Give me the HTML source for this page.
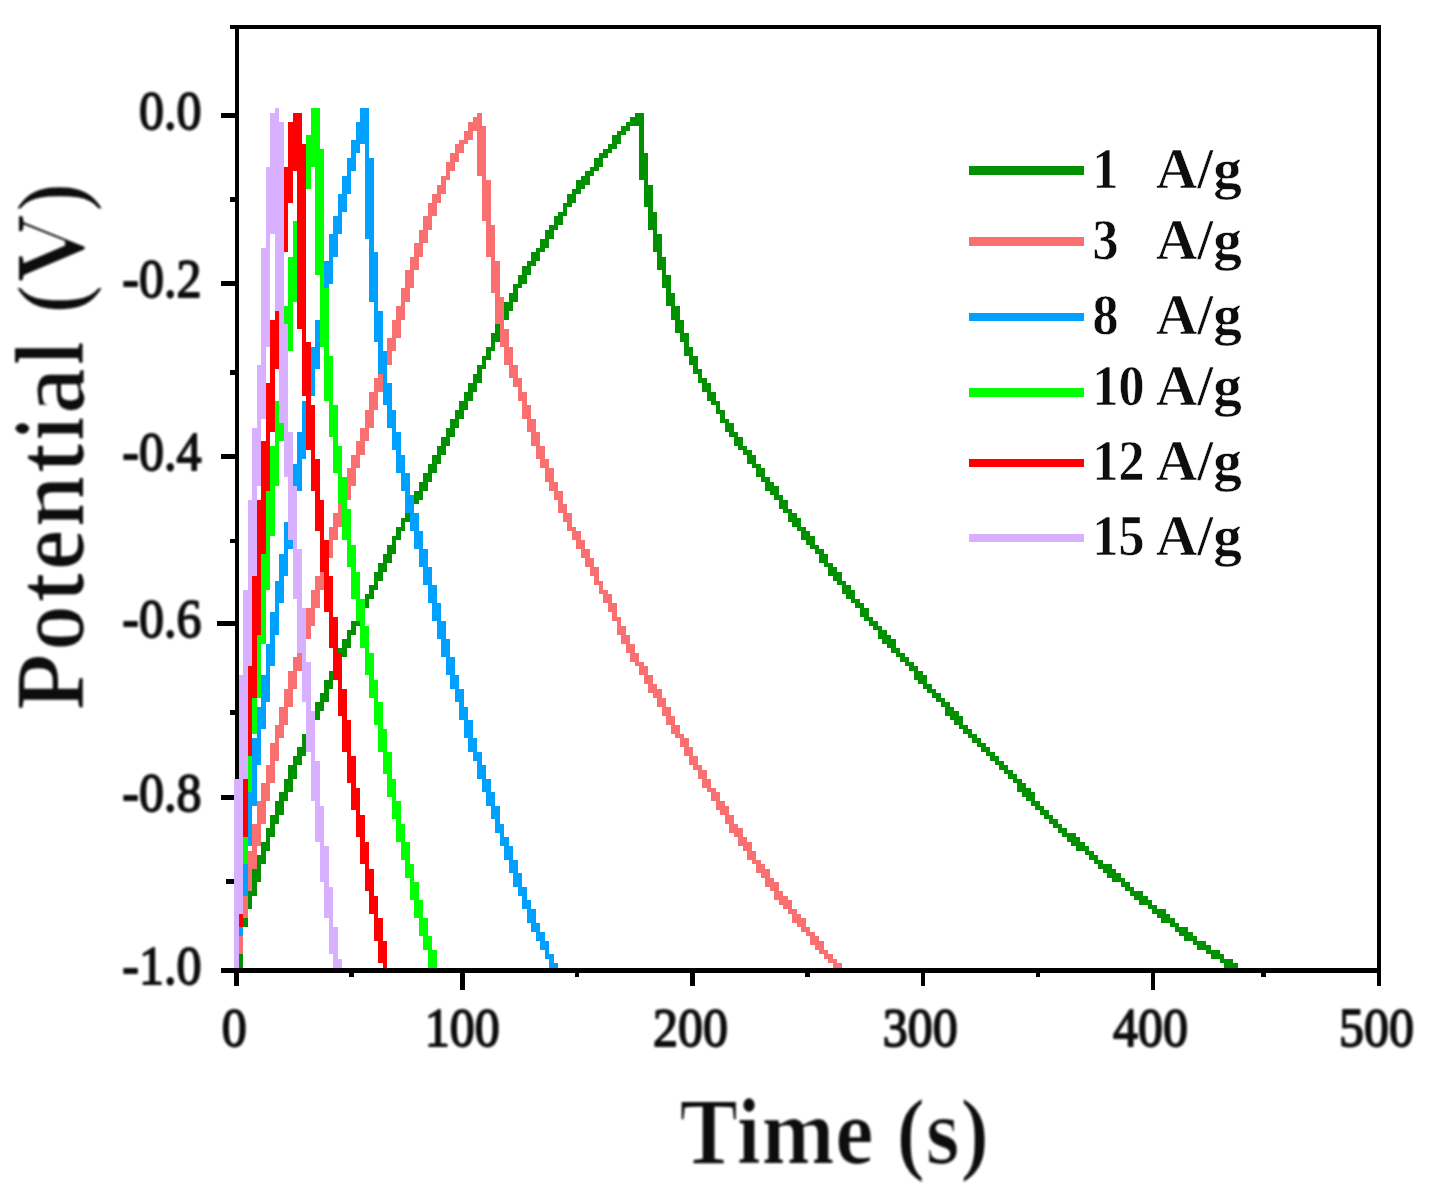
<!DOCTYPE html>
<html lang="en">
<head>
<meta charset="utf-8">
<title>GCD curves</title>
<style>
html,body{margin:0;padding:0;background:#fff;}
body{width:1436px;height:1196px;overflow:hidden;}
svg{display:block;}
text{font-family:'Liberation Serif','Times New Roman',serif;fill:#0d0d0d;}
text.r{font-weight:normal;stroke:#0d0d0d;stroke-linejoin:round;}
text.b{font-weight:bold;stroke:#ffffff;}
</style>
</head>
<body>
<svg width="1436" height="1196" viewBox="0 0 1436 1196">
<rect width="1436" height="1196" fill="#ffffff"/>
<g id="axes" fill="#000000" shape-rendering="crispEdges">
<rect x="234.5" y="24.7" width="4.5" height="947.8"/>
<rect x="1376.5" y="24.7" width="4.5" height="947.8"/>
<rect x="234.5" y="24.7" width="1146.5" height="4.6"/>
<rect x="234.5" y="968" width="1146.5" height="4.5"/>
<rect x="221" y="113.2" width="14.5" height="4.5"/>
<rect x="221" y="281.2" width="14.5" height="4.5"/>
<rect x="221" y="454.1" width="14.5" height="4.5"/>
<rect x="216.5" y="621" width="19" height="4.5"/>
<rect x="221" y="795.2" width="14.5" height="4.5"/>
<rect x="221" y="968" width="14.5" height="4.5"/>
<rect x="229.7" y="24.8" width="5.8" height="4.5"/>
<rect x="229.7" y="197.2" width="5.8" height="4.5"/>
<rect x="229.7" y="370.2" width="5.8" height="4.5"/>
<rect x="229.7" y="538.8" width="5.8" height="4.5"/>
<rect x="229.7" y="710.2" width="5.8" height="4.5"/>
<rect x="225.5" y="879.2" width="10" height="4.5"/>
<rect x="234.4" y="971.5" width="4.5" height="14"/>
<rect x="460.1" y="971.5" width="4.5" height="18.5"/>
<rect x="690.1" y="971.5" width="4.5" height="14"/>
<rect x="920.5" y="971.5" width="4.5" height="14"/>
<rect x="1150.5" y="971.5" width="4.5" height="18.5"/>
<rect x="1376.5" y="971.5" width="4.5" height="14"/>
<rect x="349.2" y="971.5" width="4.5" height="5.2"/>
<rect x="574.5" y="971.5" width="4.5" height="5.2"/>
<rect x="805.2" y="971.5" width="4.5" height="5.2"/>
<rect x="1035.5" y="971.5" width="4.5" height="5.2"/>
<rect x="1261" y="971.5" width="4.5" height="5.2"/>
</g>
<g id="curves" shape-rendering="crispEdges">
<path fill="#009000" d="M634.5 112.5H643.5V117H634.5zM630 117H643.5V121.5H630zM625.5 121.5H643.5V126H625.5zM621 126H630V130.5H621zM616.5 130.5H625.5V135H616.5zM612 135H621V144H612zM607.5 144H616.5V148.5H607.5zM639 126H643.5V153H639zM603 148.5H612V153H603zM598.5 153H607.5V157.5H598.5zM594 157.5H603V166.5H594zM589.5 166.5H598.5V171H589.5zM585 171H594V175.5H585zM639 153H648V180H639zM580.5 175.5H589.5V180H580.5zM576 180H589.5V184.5H576zM643.5 180H648V184.5H643.5zM576 184.5H585V189H576zM571.5 189H580.5V193.5H571.5zM567 193.5H576V202.5H567zM643.5 184.5H652.5V207H643.5zM562.5 202.5H571.5V207H562.5zM562.5 207H567V211.5H562.5zM648 207H652.5V211.5H648zM558 211.5H567V216H558zM553.5 216H562.5V225H553.5zM648 211.5H657V229.5H648zM549 225H558V229.5H549zM652.5 229.5H657V234H652.5zM544.5 229.5H553.5V238.5H544.5zM540 238.5H549V247.5H540zM652.5 234H661.5V252H652.5zM535.5 247.5H544.5V252H535.5zM657 252H661.5V256.5H657zM531 252H540V261H531zM526.5 261H535.5V265.5H526.5zM657 256.5H666V270H657zM522 265.5H531V274.5H522zM661.5 270H666V274.5H661.5zM517.5 274.5H526.5V283.5H517.5zM661.5 274.5H670.5V288H661.5zM513 283.5H522V288H513zM513 288H517.5V292.5H513zM666 288H670.5V292.5H666zM508.5 292.5H517.5V301.5H508.5zM666 292.5H675V306H666zM504 301.5H513V310.5H504zM504 310.5H508.5V315H504zM670.5 306H679.5V319.5H670.5zM499.5 315H508.5V319.5H499.5zM499.5 319.5H504V324H499.5zM675 319.5H684V333H675zM495 324H504V333H495zM679.5 333H688.5V342H679.5zM490.5 333H499.5V342H490.5zM490.5 342H495V346.5H490.5zM684 342H688.5V346.5H684zM486 346.5H495V351H486zM684 346.5H693V355.5H684zM486 351H490.5V355.5H486zM481.5 355.5H490.5V360H481.5zM688.5 355.5H697.5V364.5H688.5zM481.5 360H486V364.5H481.5zM477 364.5H486V369H477zM693 364.5H697.5V369H693zM693 369H702V373.5H693zM477 369H481.5V373.5H477zM697.5 373.5H702V378H697.5zM472.5 373.5H481.5V382.5H472.5zM697.5 378H706.5V382.5H697.5zM468 382.5H477V391.5H468zM702 382.5H711V391.5H702zM463.5 391.5H472.5V400.5H463.5zM706.5 391.5H715.5V400.5H706.5zM711 400.5H720V405H711zM459 400.5H468V409.5H459zM715.5 405H720V409.5H715.5zM715.5 409.5H724.5V414H715.5zM454.5 409.5H463.5V418.5H454.5zM720 414H724.5V418.5H720zM720 418.5H729V423H720zM450 418.5H459V427.5H450zM724.5 423H733.5V432H724.5zM445.5 427.5H454.5V436.5H445.5zM729 432H738V436.5H729zM733.5 436.5H742.5V445.5H733.5zM441 436.5H450V445.5H441zM738 445.5H747V450H738zM436.5 445.5H445.5V454.5H436.5zM742.5 450H751.5V454.5H742.5zM432 454.5H441V463.5H432zM747 454.5H756V463.5H747zM751.5 463.5H760.5V468H751.5zM427.5 463.5H436.5V472.5H427.5zM756 468H765V477H756zM423 472.5H432V481.5H423zM760.5 477H769.5V481.5H760.5zM765 481.5H774V486H765zM418.5 481.5H427.5V490.5H418.5zM765 486H778.5V490.5H765zM769.5 490.5H778.5V495H769.5zM414 490.5H423V499.5H414zM774 495H783V499.5H774zM409.5 499.5H418.5V504H409.5zM778.5 499.5H787.5V508.5H778.5zM409.5 504H414V508.5H409.5zM783 508.5H792V513H783zM405 508.5H414V513H405zM405 513H409.5V517.5H405zM787.5 513H796.5V517.5H787.5zM787.5 517.5H801V522H787.5zM400.5 517.5H409.5V522H400.5zM792 522H801V526.5H792zM400.5 522H405V526.5H400.5zM396 526.5H405V531H396zM796.5 526.5H805.5V531H796.5zM396 531H400.5V535.5H396zM801 531H810V535.5H801zM801 535.5H814.5V540H801zM391.5 535.5H400.5V540H391.5zM805.5 540H814.5V544.5H805.5zM391.5 540H396V544.5H391.5zM810 544.5H819V549H810zM387 544.5H396V553.5H387zM814.5 549H823.5V553.5H814.5zM819 553.5H828V562.5H819zM382.5 553.5H391.5V562.5H382.5zM823.5 562.5H832.5V567H823.5zM378 562.5H387V571.5H378zM828 567H837V571.5H828zM828 571.5H841.5V576H828zM373.5 571.5H382.5V580.5H373.5zM832.5 576H841.5V580.5H832.5zM373.5 580.5H378V585H373.5zM837 580.5H846V585H837zM369 585H378V589.5H369zM841.5 585H850.5V589.5H841.5zM841.5 589.5H855V594H841.5zM369 589.5H373.5V594H369zM364.5 594H373.5V598.5H364.5zM846 594H855V598.5H846zM364.5 598.5H369V603H364.5zM850.5 598.5H859.5V603H850.5zM360 603H369V607.5H360zM855 603H864V607.5H855zM360 607.5H364.5V612H360zM859.5 607.5H868.5V616.5H859.5zM355.5 612H364.5V616.5H355.5zM864 616.5H873V621H864zM355.5 616.5H360V621H355.5zM868.5 621H877.5V625.5H868.5zM351 621H360V625.5H351zM873 625.5H882V630H873zM351 625.5H355.5V630H351zM346.5 630H355.5V634.5H346.5zM877.5 630H886.5V634.5H877.5zM877.5 634.5H891V639H877.5zM346.5 634.5H351V639H346.5zM882 639H895.5V643.5H882zM342 639H351V648H342zM886.5 643.5H895.5V648H886.5zM891 648H900V652.5H891zM337.5 648H346.5V657H337.5zM895.5 652.5H904.5V657H895.5zM337.5 657H342V661.5H337.5zM900 657H909V661.5H900zM904.5 661.5H913.5V666H904.5zM333 661.5H342V666H333zM333 666H337.5V670.5H333zM909 666H918V670.5H909zM913.5 670.5H922.5V675H913.5zM328.5 670.5H337.5V679.5H328.5zM913.5 675H927V679.5H913.5zM918 679.5H927V684H918zM324 679.5H333V688.5H324zM922.5 684H931.5V688.5H922.5zM324 688.5H328.5V693H324zM927 688.5H936V693H927zM931.5 693H940.5V697.5H931.5zM319.5 693H328.5V702H319.5zM936 697.5H945V702H936zM940.5 702H949.5V706.5H940.5zM315 702H324V711H315zM945 706.5H954V711H945zM945 711H958.5V715.5H945zM310.5 711H319.5V720H310.5zM949.5 715.5H963V720H949.5zM310.5 720H315V724.5H310.5zM954 720H963V724.5H954zM958.5 724.5H967.5V729H958.5zM306 724.5H315V733.5H306zM963 729H972V733.5H963zM967.5 733.5H976.5V738H967.5zM301.5 733.5H310.5V742.5H301.5zM972 738H981V742.5H972zM301.5 742.5H306V747H301.5zM976.5 742.5H985.5V747H976.5zM981 747H990V751.5H981zM297 747H306V756H297zM985.5 751.5H994.5V756H985.5zM990 756H999V760.5H990zM292.5 756H301.5V765H292.5zM994.5 760.5H1003.5V765H994.5zM999 765H1008V769.5H999zM1003.5 769.5H1012.5V774H1003.5zM288 765H297V778.5H288zM1008 774H1017V778.5H1008zM1012.5 778.5H1021.5V783H1012.5zM1017 783H1026V787.5H1017zM283.5 778.5H292.5V792H283.5zM1017 787.5H1030.5V792H1017zM1021.5 792H1035V796.5H1021.5zM279 792H288V801H279zM1026 796.5H1035V801H1026zM1030.5 801H1039.5V805.5H1030.5zM1035 805.5H1044V810H1035zM274.5 801H283.5V814.5H274.5zM1039.5 810H1048.5V814.5H1039.5zM1044 814.5H1053V819H1044zM270 814.5H279V823.5H270zM1048.5 819H1057.5V823.5H1048.5zM1053 823.5H1062V828H1053zM270 823.5H274.5V828H270zM1057.5 828H1066.5V832.5H1057.5zM265.5 828H274.5V837H265.5zM1062 832.5H1075.5V837H1062zM265.5 837H270V841.5H265.5zM1066.5 837H1080V841.5H1066.5zM1071 841.5H1084.5V846H1071zM261 841.5H270V850.5H261zM1075.5 846H1089V850.5H1075.5zM261 850.5H265.5V855H261zM1084.5 850.5H1093.5V855H1084.5zM1089 855H1098V859.5H1089zM256.5 855H265.5V864H256.5zM1093.5 859.5H1102.5V864H1093.5zM256.5 864H261V868.5H256.5zM1098 864H1111.5V868.5H1098zM1102.5 868.5H1116V873H1102.5zM1107 873H1120.5V877.5H1107zM252 868.5H261V882H252zM1111.5 877.5H1125V882H1111.5zM1120.5 882H1129.5V886.5H1120.5zM1125 886.5H1134V891H1125zM247.5 882H256.5V895.5H247.5zM1129.5 891H1143V895.5H1129.5zM1134 895.5H1147.5V900H1134zM247.5 895.5H252V900H247.5zM1138.5 900H1152V904.5H1138.5zM243 900H252V909H243zM1147.5 904.5H1156.5V909H1147.5zM1152 909H1165.5V913.5H1152zM243 909H247.5V913.5H243zM1156.5 913.5H1170V918H1156.5zM1161 918H1174.5V922.5H1161zM238.5 913.5H247.5V927H238.5zM1170 922.5H1179V927H1170zM1174.5 927H1188V931.5H1174.5zM1179 931.5H1192.5V936H1179zM1183.5 936H1197V940.5H1183.5zM1192.5 940.5H1206V945H1192.5zM1197 945H1210.5V949.5H1197zM1206 949.5H1219.5V954H1206zM1210.5 954H1224V958.5H1210.5zM1219.5 958.5H1233V963H1219.5zM1224 963H1237.5V967.5H1224zM238.5 927H243V968H238.5zM1233 967.5H1237.5V968H1233z"/>
<path fill="#fa7070" d="M477 112.5H481.5V117H477zM472.5 117H481.5V121.5H472.5zM468 121.5H481.5V126H468zM468 126H486V130.5H468zM463.5 130.5H472.5V139.5H463.5zM459 139.5H468V144H459zM454.5 144H463.5V153H454.5zM450 153H459V162H450zM445.5 162H454.5V171H445.5zM477 130.5H486V175.5H477zM445.5 171H450V175.5H445.5zM481.5 175.5H486V180H481.5zM441 175.5H450V180H441zM441 180H445.5V184.5H441zM436.5 184.5H445.5V193.5H436.5zM432 193.5H441V202.5H432zM427.5 202.5H436.5V216H427.5zM481.5 180H490.5V220.5H481.5zM486 220.5H490.5V225H486zM423 216H432V229.5H423zM418.5 229.5H427.5V243H418.5zM486 225H495V256.5H486zM414 243H423V256.5H414zM490.5 256.5H495V261H490.5zM409.5 256.5H418.5V270H409.5zM405 270H414V288H405zM490.5 261H499.5V292.5H490.5zM495 292.5H499.5V297H495zM400.5 288H409.5V301.5H400.5zM400.5 301.5H405V306H400.5zM396 306H405V319.5H396zM495 297H504V324H495zM499.5 324H504V328.5H499.5zM391.5 319.5H400.5V337.5H391.5zM499.5 328.5H508.5V346.5H499.5zM387 337.5H396V351H387zM504 346.5H513V364.5H504zM382.5 351H391.5V364.5H382.5zM378 364.5H387V378H378zM508.5 364.5H517.5V378H508.5zM513 378H522V387H513zM373.5 378H382.5V391.5H373.5zM517.5 387H522V391.5H517.5zM517.5 391.5H526.5V400.5H517.5zM522 400.5H526.5V405H522zM369 391.5H378V409.5H369zM522 405H531V418.5H522zM364.5 409.5H373.5V427.5H364.5zM526.5 418.5H535.5V432H526.5zM360 427.5H369V441H360zM531 432H540V445.5H531zM355.5 441H364.5V454.5H355.5zM535.5 445.5H544.5V459H535.5zM351 454.5H360V468H351zM540 459H549V468H540zM544.5 468H553.5V481.5H544.5zM346.5 468H355.5V486H346.5zM549 481.5H558V490.5H549zM342 486H351V499.5H342zM553.5 490.5H562.5V499.5H553.5zM558 499.5H562.5V504H558zM337.5 499.5H346.5V513H337.5zM558 504H567V513H558zM562.5 513H571.5V522H562.5zM333 513H342V526.5H333zM567 522H571.5V526.5H567zM567 526.5H576V531H567zM328.5 526.5H337.5V540H328.5zM571.5 531H580.5V540H571.5zM328.5 540H333V544.5H328.5zM576 540H585V549H576zM324 544.5H333V558H324zM580.5 549H589.5V558H580.5zM585 558H594V567H585zM319.5 558H328.5V576H319.5zM589.5 567H598.5V576H589.5zM594 576H598.5V580.5H594zM594 580.5H603V585H594zM315 576H324V589.5H315zM598.5 585H603V589.5H598.5zM598.5 589.5H607.5V594H598.5zM603 594H612V603H603zM310.5 589.5H319.5V607.5H310.5zM607.5 603H616.5V612H607.5zM612 612H616.5V616.5H612zM612 616.5H621V621H612zM306 607.5H315V625.5H306zM616.5 621H621V625.5H616.5zM616.5 625.5H625.5V634.5H616.5zM301.5 625.5H310.5V639H301.5zM621 634.5H630V643.5H621zM625.5 643.5H634.5V652.5H625.5zM297 639H306V657H297zM630 652.5H639V661.5H630zM634.5 661.5H643.5V666H634.5zM292.5 657H301.5V670.5H292.5zM639 666H648V675H639zM643.5 675H652.5V684H643.5zM288 670.5H297V688.5H288zM648 684H657V688.5H648zM648 688.5H661.5V693H648zM652.5 693H661.5V697.5H652.5zM283.5 688.5H292.5V706.5H283.5zM657 697.5H666V706.5H657zM661.5 706.5H670.5V715.5H661.5zM279 706.5H288V724.5H279zM666 715.5H675V724.5H666zM670.5 724.5H679.5V733.5H670.5zM274.5 724.5H283.5V738H274.5zM675 733.5H684V738H675zM274.5 738H279V742.5H274.5zM679.5 738H688.5V747H679.5zM684 747H693V756H684zM270 742.5H279V760.5H270zM688.5 756H697.5V765H688.5zM270 760.5H274.5V765H270zM693 765H702V769.5H693zM697.5 769.5H706.5V778.5H697.5zM265.5 765H274.5V783H265.5zM702 778.5H711V787.5H702zM706.5 787.5H715.5V792H706.5zM261 783H270V801H261zM711 792H720V801H711zM715.5 801H724.5V805.5H715.5zM715.5 805.5H729V810H715.5zM720 810H729V814.5H720zM256.5 801H265.5V823.5H256.5zM724.5 814.5H733.5V823.5H724.5zM729 823.5H738V828H729zM729 828H742.5V832.5H729zM733.5 832.5H742.5V837H733.5zM738 837H747V841.5H738zM252 823.5H261V846H252zM738 841.5H751.5V846H738zM742.5 846H751.5V850.5H742.5zM252 846H256.5V850.5H252zM747 850.5H756V859.5H747zM751.5 859.5H760.5V864H751.5zM247.5 850.5H256.5V868.5H247.5zM756 864H765V868.5H756zM756 868.5H769.5V873H756zM247.5 868.5H252V873H247.5zM760.5 873H769.5V877.5H760.5zM765 877.5H774V882H765zM765 882H778.5V886.5H765zM243 873H252V891H243zM769.5 886.5H778.5V891H769.5zM774 891H783V895.5H774zM243 891H247.5V895.5H243zM774 895.5H787.5V900H774zM778.5 900H792V904.5H778.5zM783 904.5H792V909H783zM787.5 909H796.5V913.5H787.5zM238.5 895.5H247.5V918H238.5zM792 913.5H801V918H792zM792 918H805.5V922.5H792zM796.5 922.5H805.5V927H796.5zM801 927H810V931.5H801zM805.5 931.5H814.5V936H805.5zM810 936H819V940.5H810zM810 940.5H823.5V945H810zM814.5 945H823.5V949.5H814.5zM238.5 918H243V954H238.5zM819 949.5H828V954H819zM823.5 954H832.5V958.5H823.5zM828 958.5H837V963H828zM832.5 963H841.5V967.5H832.5zM832.5 967.5H837V968H832.5z"/>
<path fill="#00a0ff" d="M360 108H369V121.5H360zM355.5 121.5H369V139.5H355.5zM351 139.5H369V144H351zM351 144H360V153H351zM364.5 144H369V157.5H364.5zM351 153H355.5V157.5H351zM346.5 157.5H355.5V171H346.5zM346.5 171H351V175.5H346.5zM342 175.5H351V193.5H342zM337.5 193.5H346.5V211.5H337.5zM337.5 211.5H342V216H337.5zM333 216H342V234H333zM364.5 157.5H373.5V238.5H364.5zM369 238.5H373.5V252H369zM328.5 234H337.5V256.5H328.5zM328.5 256.5H333V261H328.5zM324 261H333V283.5H324zM324 283.5H328.5V288H324zM369 252H378V301.5H369zM373.5 301.5H378V310.5H373.5zM319.5 288H328.5V315H319.5zM319.5 315H324V319.5H319.5zM373.5 310.5H382.5V342H373.5zM315 319.5H324V342H315zM315 342H319.5V346.5H315zM378 342H382.5V351H378zM310.5 346.5H319.5V369H310.5zM378 351H387V373.5H378zM382.5 373.5H387V382.5H382.5zM306 369H315V396H306zM306 396H310.5V400.5H306zM382.5 382.5H391.5V405H382.5zM387 405H391.5V409.5H387zM301.5 400.5H310.5V427.5H301.5zM387 409.5H396V427.5H387zM391.5 427.5H396V432H391.5zM301.5 427.5H306V432H301.5zM391.5 432H400.5V450H391.5zM396 450H400.5V454.5H396zM297 432H306V459H297zM297 459H301.5V463.5H297zM396 454.5H405V472.5H396zM292.5 463.5H301.5V490.5H292.5zM400.5 472.5H409.5V490.5H400.5zM405 490.5H409.5V495H405zM292.5 490.5H297V495H292.5zM405 495H414V513H405zM288 495H297V517.5H288zM288 517.5H292.5V522H288zM409.5 513H418.5V531H409.5zM283.5 522H292.5V549H283.5zM414 531H423V549H414zM283.5 549H288V553.5H283.5zM418.5 549H427.5V567H418.5zM279 553.5H288V576H279zM279 576H283.5V580.5H279zM423 567H432V585H423zM274.5 580.5H283.5V603H274.5zM427.5 585H436.5V603H427.5zM274.5 603H279V612H274.5zM432 603H441V621H432zM270 612H279V634.5H270zM436.5 621H445.5V639H436.5zM270 634.5H274.5V643.5H270zM441 639H450V657H441zM265.5 643.5H274.5V666H265.5zM445.5 657H454.5V675H445.5zM265.5 666H270V675H265.5zM450 675H459V688.5H450zM261 675H270V702H261zM454.5 688.5H463.5V702H454.5zM459 702H463.5V706.5H459zM261 702H265.5V706.5H261zM459 706.5H468V720H459zM256.5 706.5H265.5V729H256.5zM463.5 720H472.5V738H463.5zM256.5 729H261V738H256.5zM468 738H477V751.5H468zM472.5 751.5H481.5V760.5H472.5zM252 738H261V765H252zM477 760.5H481.5V765H477zM252 765H256.5V774H252zM477 765H486V778.5H477zM481.5 778.5H490.5V792H481.5zM247.5 774H256.5V805.5H247.5zM486 792H495V805.5H486zM247.5 805.5H252V810H247.5zM490.5 805.5H499.5V819H490.5zM495 819H499.5V823.5H495zM495 823.5H504V832.5H495zM499.5 832.5H504V837H499.5zM243 810H252V846H243zM499.5 837H508.5V846H499.5zM243 846H247.5V850.5H243zM504 846H513V859.5H504zM508.5 859.5H517.5V873H508.5zM513 873H522V886.5H513zM238.5 850.5H247.5V895.5H238.5zM517.5 886.5H526.5V895.5H517.5zM522 895.5H526.5V900H522zM522 900H531V909H522zM526.5 909H535.5V922.5H526.5zM531 922.5H540V931.5H531zM238.5 895.5H243V936H238.5zM535.5 931.5H544.5V940.5H535.5zM540 940.5H549V949.5H540zM544.5 949.5H549V954H544.5zM544.5 954H553.5V958.5H544.5zM549 958.5H553.5V963H549zM549 963H558V967.5H549z"/>
<path fill="#00ff00" d="M310.5 108H319.5V135H310.5zM306 135H319.5V148.5H306zM306 148.5H324V166.5H306zM301.5 166.5H310.5V189H301.5zM301.5 189H306V193.5H301.5zM297 193.5H306V216H297zM297 216H301.5V220.5H297zM292.5 220.5H301.5V247.5H292.5zM292.5 247.5H297V256.5H292.5zM315 166.5H324V274.5H315zM319.5 274.5H324V288H319.5zM288 256.5H297V301.5H288zM288 301.5H292.5V306H288zM319.5 288H328.5V346.5H319.5zM283.5 306H292.5V351H283.5zM324 346.5H328.5V355.5H324zM283.5 351H288V360H283.5zM279 360H288V396H279zM324 355.5H333V400.5H324zM279 396H283.5V400.5H279zM328.5 400.5H333V405H328.5zM328.5 405H337.5V436.5H328.5zM274.5 400.5H283.5V441H274.5zM333 436.5H337.5V445.5H333zM274.5 441H279V445.5H274.5zM333 445.5H342V472.5H333zM337.5 472.5H342V477H337.5zM270 445.5H279V486H270zM270 486H274.5V490.5H270zM337.5 477H346.5V504H337.5zM342 504H346.5V508.5H342zM265.5 490.5H274.5V535.5H265.5zM342 508.5H351V540H342zM265.5 535.5H270V544.5H265.5zM346.5 540H351V544.5H346.5zM346.5 544.5H355.5V567H346.5zM351 567H355.5V571.5H351zM261 544.5H270V589.5H261zM351 571.5H360V598.5H351zM261 589.5H265.5V598.5H261zM355.5 598.5H364.5V621H355.5zM360 621H364.5V625.5H360zM256.5 598.5H265.5V643.5H256.5zM360 625.5H369V648H360zM256.5 643.5H261V652.5H256.5zM364.5 648H369V652.5H364.5zM364.5 652.5H373.5V675H364.5zM369 675H373.5V679.5H369zM252 652.5H261V697.5H252zM369 679.5H378V697.5H369zM373.5 697.5H378V702H373.5zM252 697.5H256.5V702H252zM373.5 702H382.5V724.5H373.5zM378 724.5H382.5V729H378zM247.5 702H256.5V733.5H247.5zM247.5 733.5H252V742.5H247.5zM378 729H387V751.5H378zM382.5 751.5H391.5V774H382.5zM387 774H391.5V778.5H387zM243 742.5H252V792H243zM387 778.5H396V796.5H387zM243 792H247.5V801H243zM391.5 796.5H396V801H391.5zM391.5 801H400.5V819H391.5zM396 819H400.5V823.5H396zM396 823.5H405V841.5H396zM400.5 841.5H409.5V859.5H400.5zM238.5 801H247.5V864H238.5zM405 859.5H409.5V864H405zM405 864H414V877.5H405zM409.5 877.5H414V882H409.5zM409.5 882H418.5V900H409.5zM414 900H423V918H414zM238.5 864H243V927H238.5zM418.5 918H427.5V936H418.5zM423 936H432V949.5H423zM427.5 949.5H436.5V967.5H427.5zM432 967.5H436.5V968H432z"/>
<path fill="#ff0000" d="M292.5 112.5H301.5V121.5H292.5zM288 121.5H301.5V144H288zM288 144H306V166.5H288zM283.5 166.5H306V171H283.5zM283.5 171H292.5V202.5H283.5zM283.5 202.5H288V207H283.5zM279 207H288V252H279zM279 252H283.5V261H279zM274.5 261H283.5V310.5H274.5zM274.5 310.5H279V319.5H274.5zM297 171H306V328.5H297zM301.5 328.5H306V342H301.5zM270 319.5H279V369H270zM270 369H274.5V382.5H270zM301.5 342H310.5V396H301.5zM306 396H310.5V405H306zM265.5 382.5H274.5V432H265.5zM265.5 432H270V441H265.5zM306 405H315V450H306zM310.5 450H315V459H310.5zM261 441H270V490.5H261zM310.5 459H319.5V490.5H310.5zM315 490.5H319.5V499.5H315zM261 490.5H265.5V499.5H261zM315 499.5H324V531H315zM319.5 531H324V540H319.5zM256.5 499.5H265.5V553.5H256.5zM256.5 553.5H261V567H256.5zM319.5 540H328.5V571.5H319.5zM324 571.5H328.5V576H324zM324 576H333V612H324zM328.5 612H333V616.5H328.5zM252 567H261V634.5H252zM252 634.5H256.5V643.5H252zM328.5 616.5H337.5V648H328.5zM333 648H337.5V652.5H333zM333 652.5H342V679.5H333zM337.5 679.5H342V688.5H337.5zM247.5 643.5H256.5V697.5H247.5zM247.5 697.5H252V706.5H247.5zM337.5 688.5H346.5V715.5H337.5zM342 715.5H346.5V720H342zM342 720H351V751.5H342zM243 706.5H252V756H243zM346.5 751.5H351V756H346.5zM243 756H247.5V774H243zM346.5 756H355.5V783H346.5zM351 783H355.5V787.5H351zM351 787.5H360V810H351zM355.5 810H360V814.5H355.5zM238.5 774H247.5V837H238.5zM355.5 814.5H364.5V837H355.5zM360 837H364.5V841.5H360zM360 841.5H369V864H360zM364.5 864H369V868.5H364.5zM364.5 868.5H373.5V891H364.5zM369 891H373.5V895.5H369zM369 895.5H378V913.5H369zM373.5 913.5H378V918H373.5zM238.5 837H243V927H238.5zM373.5 918H382.5V940.5H373.5zM378 940.5H387V963H378zM382.5 963H387V967.5H382.5z"/>
<path fill="#d8b0ff" d="M274.5 108H279V112.5H274.5zM270 112.5H279V121.5H270zM270 121.5H283.5V166.5H270zM265.5 166.5H283.5V234H265.5zM265.5 234H270V247.5H265.5zM274.5 234H283.5V310.5H274.5zM279 310.5H283.5V324H279zM261 247.5H270V346.5H261zM261 346.5H265.5V364.5H261zM256.5 364.5H265.5V418.5H256.5zM279 324H288V423H279zM256.5 418.5H261V427.5H256.5zM283.5 423H288V432H283.5zM283.5 432H292.5V477H283.5zM252 427.5H261V486H252zM288 477H292.5V486H288zM252 486H256.5V499.5H252zM288 486H297V540H288zM292.5 540H297V549H292.5zM247.5 499.5H256.5V576H247.5zM247.5 576H252V589.5H247.5zM292.5 549H301.5V598.5H292.5zM297 598.5H301.5V607.5H297zM297 607.5H306V652.5H297zM301.5 652.5H306V661.5H301.5zM243 589.5H252V666H243zM243 666H247.5V675H243zM301.5 661.5H310.5V702H301.5zM306 702H310.5V711H306zM306 711H315V751.5H306zM310.5 751.5H315V760.5H310.5zM238.5 675H247.5V778.5H238.5zM310.5 760.5H319.5V801H310.5zM315 801H319.5V805.5H315zM315 805.5H324V841.5H315zM319.5 841.5H324V846H319.5zM319.5 846H328.5V882H319.5zM324 882H328.5V886.5H324zM234 778.5H243V913.5H234zM324 886.5H333V918H324zM328.5 918H333V927H328.5zM328.5 927H337.5V954H328.5zM333 954H337.5V958.5H333zM333 958.5H342V967.5H333zM234 913.5H238.5V968H234zM333 967.5H337.5V968H333z"/>
</g>
<g id="legend" shape-rendering="crispEdges">
<rect x="969" y="166.1" width="115.4" height="8.6" fill="#009000"/>
<rect x="969" y="237.3" width="115.4" height="8.6" fill="#fa7070"/>
<rect x="969" y="312.5" width="115.4" height="8.6" fill="#00a0ff"/>
<rect x="969" y="387.9" width="115.4" height="8.6" fill="#00ff00"/>
<rect x="969" y="458.6" width="115.4" height="8.6" fill="#ff0000"/>
<rect x="969" y="533.7" width="115.4" height="8.6" fill="#d8b0ff"/>
</g>
<defs><filter id="soft" x="-5%" y="-5%" width="110%" height="110%"><feGaussianBlur stdDeviation="1.2"/></filter><filter id="soft2" x="-5%" y="-5%" width="110%" height="110%"><feGaussianBlur stdDeviation="0.6"/></filter>
<filter id="thinx" x="-5%" y="-10%" width="110%" height="120%"><feMorphology operator="erode" radius="1 0"/><feGaussianBlur stdDeviation="1.1"/></filter>
<filter id="thiny" x="-10%" y="-5%" width="120%" height="110%"><feMorphology operator="erode" radius="0 2"/><feGaussianBlur stdDeviation="1.1"/></filter>
</defs>
<g id="labels" filter="url(#soft)">
<text transform="translate(201.5 128.9) scale(1.000 1.100)" font-size="50" text-anchor="end" class="r" style="stroke-width:1.6">0.0</text>
<text transform="translate(201.5 297) scale(1.000 1.100)" font-size="50" text-anchor="end" class="r" style="stroke-width:1.6">-0.2</text>
<text transform="translate(201.5 469.8) scale(1.000 1.100)" font-size="50" text-anchor="end" class="r" style="stroke-width:1.6">-0.4</text>
<text transform="translate(201.5 636.7) scale(1.000 1.100)" font-size="50" text-anchor="end" class="r" style="stroke-width:1.6">-0.6</text>
<text transform="translate(201.5 811) scale(1.000 1.100)" font-size="50" text-anchor="end" class="r" style="stroke-width:1.6">-0.8</text>
<text transform="translate(201.5 983.7) scale(1.000 1.100)" font-size="50" text-anchor="end" class="r" style="stroke-width:1.6">-1.0</text>
<text transform="translate(234.2 1046) scale(1.000 1.100)" font-size="50" text-anchor="middle" class="r" style="stroke-width:1.6">0</text>
<text transform="translate(462.2 1046) scale(1.000 1.100)" font-size="50" text-anchor="middle" class="r" style="stroke-width:1.6">100</text>
<text transform="translate(690.4 1046) scale(1.000 1.100)" font-size="50" text-anchor="middle" class="r" style="stroke-width:1.6">200</text>
<text transform="translate(920.3 1046) scale(1.000 1.100)" font-size="50" text-anchor="middle" class="r" style="stroke-width:1.6">300</text>
<text transform="translate(1150.6 1046) scale(1.000 1.100)" font-size="50" text-anchor="middle" class="r" style="stroke-width:1.6">400</text>
<text transform="translate(1376.4 1046) scale(1.000 1.100)" font-size="50" text-anchor="middle" class="r" style="stroke-width:1.6">500</text>
</g>
<g id="legendtext" filter="url(#soft2)">
<text transform="translate(1092.5 188.3) scale(1.000 1.100)" font-size="52" text-anchor="start" class="b" style="stroke-width:0.5">1</text>
<text transform="translate(1156 188.3) scale(1.100 1.100)" font-size="52" text-anchor="start" class="b" style="stroke-width:0.5">A/g</text>
<text transform="translate(1092.5 258.7) scale(1.000 1.100)" font-size="52" text-anchor="start" class="b" style="stroke-width:0.5">3</text>
<text transform="translate(1156 258.7) scale(1.100 1.100)" font-size="52" text-anchor="start" class="b" style="stroke-width:0.5">A/g</text>
<text transform="translate(1092.5 333.9) scale(1.000 1.100)" font-size="52" text-anchor="start" class="b" style="stroke-width:0.5">8</text>
<text transform="translate(1156 333.9) scale(1.100 1.100)" font-size="52" text-anchor="start" class="b" style="stroke-width:0.5">A/g</text>
<text transform="translate(1092.5 405) scale(1.000 1.100)" font-size="52" text-anchor="start" class="b" style="stroke-width:0.5">10</text>
<text transform="translate(1156 405) scale(1.100 1.100)" font-size="52" text-anchor="start" class="b" style="stroke-width:0.5">A/g</text>
<text transform="translate(1092.5 480) scale(1.000 1.100)" font-size="52" text-anchor="start" class="b" style="stroke-width:0.5">12</text>
<text transform="translate(1156 480) scale(1.100 1.100)" font-size="52" text-anchor="start" class="b" style="stroke-width:0.5">A/g</text>
<text transform="translate(1092.5 555.2) scale(1.000 1.100)" font-size="52" text-anchor="start" class="b" style="stroke-width:0.5">15</text>
<text transform="translate(1156 555.2) scale(1.100 1.100)" font-size="52" text-anchor="start" class="b" style="stroke-width:0.5">A/g</text>
</g>
<g id="xtitle" filter="url(#thinx)">
<text transform="translate(834.3 1162.5) scale(1.022 1.070)" font-size="86.5" text-anchor="middle" class="b" style="stroke-width:0">Time (s)</text>
</g>
<g id="ytitle" filter="url(#thiny)">
<text transform="translate(83 446.2) rotate(-90)" font-size="97" text-anchor="middle" class="b" style="stroke-width:0">Potential (V)</text>
</g>
</svg>
</body>
</html>
